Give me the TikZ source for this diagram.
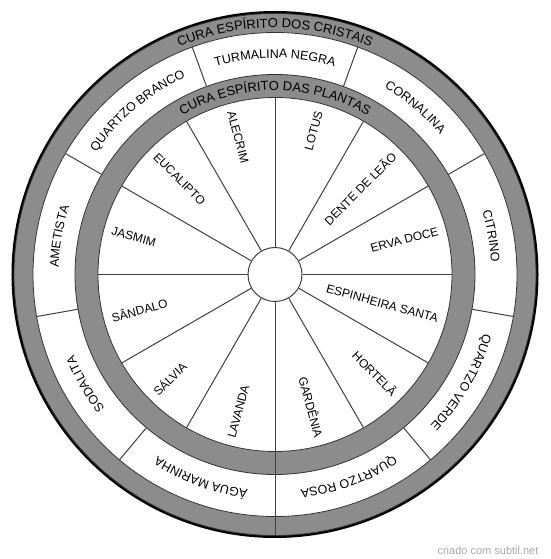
\documentclass[tikz,border=0pt]{standalone}
\usepackage{fontspec}
\setmainfont{Liberation Sans}
\usepackage{xcolor}
\usetikzlibrary{decorations.text}

\definecolor{bandgray}{RGB}{140,140,140}
\definecolor{linegray}{RGB}{64,64,64}
\newcommand{\ringfont}{\fontsize{13}{13}\selectfont}
\newcommand{\stonefont}{\fontsize{12.5}{12.5}\selectfont}

\begin{document}
\begin{tikzpicture}[x=1pt, y=1pt,
    band/.style={fill=bandgray, draw=black!80, line width=0.8pt},
    whitedisk/.style={fill=white, draw=black!80, line width=0.8pt},
    spoke/.style={draw=linegray, line width=1pt},
    plant/.style={font=\fontsize{12}{12}\selectfont, inner sep=0pt, text height=8.6pt, text depth=0pt},
    arctext/.style={decorate, decoration={text along path, text align=center, text={#1}}}]
    \useasboundingbox (-275,-284.5) rectangle (275,274.5);

    % Rings
    \fill[black] (0,0) circle (263.5);
    \filldraw[band] (0,0) circle (261);
    \filldraw[whitedisk] (0,0) circle (242);
    \filldraw[band] (0,0) circle (200);
    \filldraw[whitedisk] (0,0) circle (177);

    % Hub and spokes
    \node[circle, draw=linegray, fill=white, line width=1pt, minimum size=54pt, inner sep=0pt] (hub) at (0,0) {};
    \foreach \a in {0,30,...,330}
        \draw[spoke] (hub.\a) -- (\a:177);
    \draw[spoke] (hub.270) -- (270:261);

    % Dividers of the crystal ring
    \foreach \a in {30,70,...,350}
        \draw[spoke] (\a:200) -- (\a:242);

    % Ring titles
    \path[arctext={|\ringfont|CURA ESPÍRITO DOS CRISTAIS}] (140:246.8) arc[start angle=140, end angle=40, radius=246.8];
    \path[arctext={|\ringfont|CURA ESPÍRITO DAS PLANTAS}] (150:184) arc[start angle=150, end angle=30, radius=184];

    % Crystals
    \path[arctext={|\stonefont|TURMALINA NEGRA}] (110:216.5) arc[start angle=110, end angle=70, radius=216.5];
    \path[arctext={|\stonefont|CORNALINA}] (70:216.5) arc[start angle=70, end angle=30, radius=216.5];
    \path[arctext={|\stonefont|CITRINO}] (30:216.5) arc[start angle=30, end angle=-10, radius=216.5];
    \path[arctext={|\stonefont|QUARTZO VERDE}] (-10:216.5) arc[start angle=-10, end angle=-50, radius=216.5];
    \path[arctext={|\stonefont|QUARTZO ROSA}] (-50:216.5) arc[start angle=-50, end angle=-90, radius=216.5];
    \path[arctext={|\stonefont|ÁGUA MARINHA}] (-90:216.5) arc[start angle=-90, end angle=-130, radius=216.5];
    \path[arctext={|\stonefont|SODALITA}] (-130:216.5) arc[start angle=-130, end angle=-170, radius=216.5];
    \path[arctext={|\stonefont|AMETISTA}] (190:216.5) arc[start angle=190, end angle=150, radius=216.5];
    \path[arctext={|\stonefont|QUARTZO BRANCO}] (150:216.5) arc[start angle=150, end angle=110, radius=216.5];

    % Plants, right half
    \node[plant, rotate=75, anchor=east] (lotus) at (75:169) {LOTUS};
    \node[plant, rotate=45, anchor=east] (dente) at (45:169) {DENTE DE LEÃO};
    \node[plant, rotate=15, anchor=east] (erva) at (15:169) {ERVA DOCE};
    \node[plant, rotate=-15, anchor=east] (espinheira) at (-15:169) {ESPINHEIRA SANTA};
    \node[plant, rotate=-45, anchor=east] (hortela) at (-45:169) {HORTELÃ};
    \node[plant, rotate=-75, anchor=east] (gardenia) at (-75:169) {GARDÊNIA};

    % Plants, left half
    \node[plant, rotate=75, anchor=west] (lavanda) at (-105:169) {LAVANDA};
    \node[plant, rotate=45, anchor=west] (salvia) at (-135:169) {SÁLVIA};
    \node[plant, rotate=15, anchor=west] (sandalo) at (-165:169) {SÂNDALO};
    \node[plant, rotate=-15, anchor=west] (jasmim) at (165:169) {JASMIM};
    \node[plant, rotate=-45, anchor=west] (eucalipto) at (135:169) {EUCALIPTO};
    \node[plant, rotate=-75, anchor=west] (alecrim) at (105:169) {ALECRIM};

    % Credit
    \node[font=\fontsize{11}{11}\selectfont, text=black!35] (credit) at (213,-276.5) {criado com subtil.net};
\end{tikzpicture}
\end{document}
